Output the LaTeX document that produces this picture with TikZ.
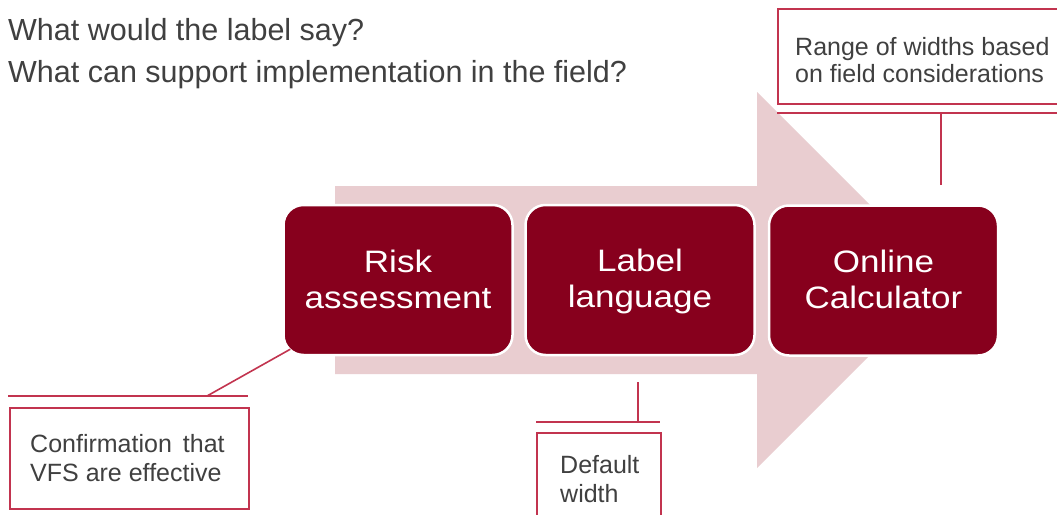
\documentclass[tikz,border=0pt]{standalone}
\usepackage{fontspec}
\setmainfont{Liberation Sans}
\newfontfamily\boxfont[FakeStretch=1.13]{Liberation Sans}
\definecolor{arrowpink}{HTML}{E9CDD0}
\definecolor{darkred}{HTML}{87001D}
\definecolor{callred}{HTML}{C2344F}
\definecolor{txtgray}{HTML}{404040}
\newcommand{\topline}{\rule{0pt}{26pt}}
\newcommand{\botline}{\rule[-6pt]{0pt}{6pt}}
\tikzset{
  stepbox/.style={draw=white, line width=2.5pt, fill=darkred, rounded corners=20pt,
    minimum width=229pt, minimum height=150pt, inner sep=0pt, text=white,
    align=center, font=\boxfont\fontsize{31}{36}\selectfont},
  callbox/.style={draw=callred, line width=1.6pt, fill=white, inner sep=0pt},
  callline/.style={draw=callred, line width=1.6pt},
  calltext/.style={text=txtgray, font=\fontsize{25}{29}\selectfont, anchor=base west, inner sep=0pt, align=left},
  toptext/.style={text=txtgray, font=\fontsize{30.5}{36}\selectfont, anchor=base west, inner sep=0pt}
}
\begin{document}
\begin{tikzpicture}[x=1pt,y=-1pt]
\useasboundingbox (0,0) rectangle (1057,514);
\fill[white] (0,0) rectangle (1057,514);
% big arrow
\fill[arrowpink] (335,186) -- (757,186) -- (757,92) -- (945,280) -- (757,468)
  -- (757,374) -- (335,374) -- cycle;
% step boxes
\node[stepbox] (b1) at (398,280) {\topline Risk\\assessment\botline};
\node[stepbox] (b2) at (640,280) {\topline Label\\language\botline};
\node[stepbox] (b3) at (883.5,280.5) {\topline Online\\Calculator\botline};
% top questions
\node[toptext] (q1) at (8,40) {What would the label say?};
\node[toptext] (q2) at (8,82) {What can support implementation in the field?};
% callout 1
\draw[callline] (8,396) -- (248,396);
\coordinate (l1) at (207,396);
\node[callbox, minimum width=239pt, minimum height=101pt, anchor=north west] (cb1) at (9,407) {};
\node[calltext] (t1) at (30,481) {Confirmation\hspace{11pt}that\\VFS are effective};
\draw[callline] (l1) -- ([shift={(8,-7)}]b1.south west);
% callout 2
\draw[callline] (536,422) -- (660,422);
\coordinate (l2) at (638,422);
\coordinate (e2) at (638,382);
\node[callbox, minimum width=124pt, minimum height=100pt, anchor=north west] (cb2) at (536,432) {};
\node[calltext] (t2) at (560,502) {Default\\width};
\draw[callline] (l2) -- (e2);
% callout 3
\node[callbox, minimum width=300pt, minimum height=95pt, anchor=north west] (cb3) at (777,8) {};
\draw[callline] (777,113) -- (1070,113);
\coordinate (l3) at (941,113);
\coordinate (e3) at (941,185);
\node[calltext, font=\fontsize{25}{27}\selectfont] (t3) at (795,82) {Range of widths based\\on field considerations};
\draw[callline] (l3) -- (e3);
\end{tikzpicture}
\end{document}
